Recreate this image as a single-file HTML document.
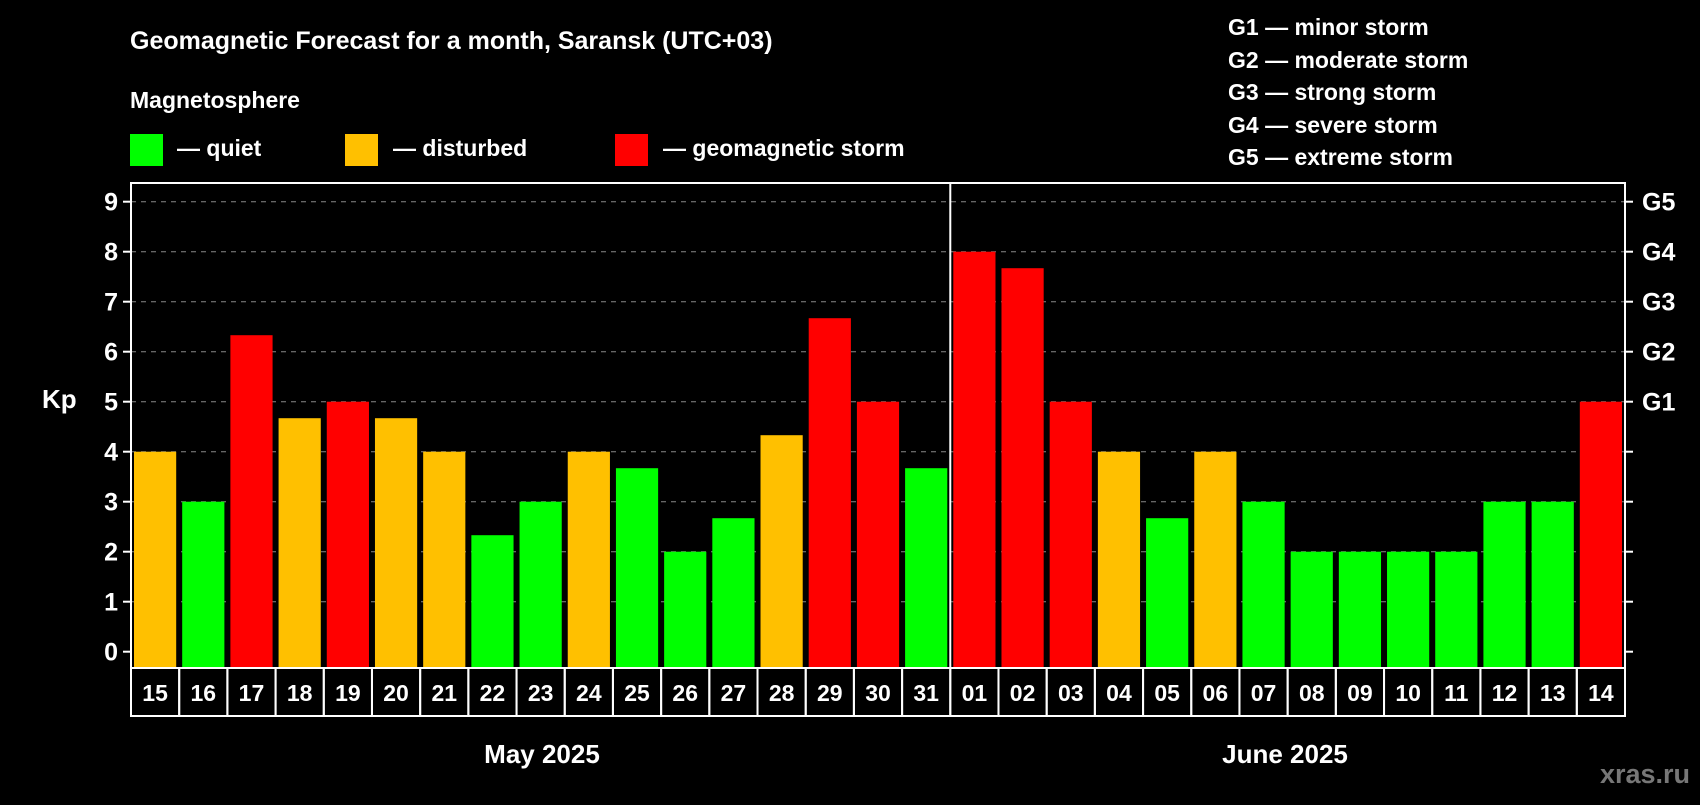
<!DOCTYPE html>
<html><head><meta charset="utf-8"><style>
body{margin:0;background:#000;width:1700px;height:800px;overflow:hidden}
svg text{font-family:"Liberation Sans",sans-serif;font-weight:bold;fill:#fff}
</style></head><body>
<svg id="c" width="1700" height="800">
<text x="130" y="49" font-size="25">Geomagnetic Forecast for a month, Saransk (UTC+03)</text>
<text x="130" y="108" font-size="23">Magnetosphere</text>
<rect x="130" y="134" width="33" height="32" fill="#00ff00"/>
<text x="177" y="156" font-size="23">— quiet</text>
<rect x="345" y="134" width="33" height="32" fill="#ffc000"/>
<text x="393" y="156" font-size="23">— disturbed</text>
<rect x="615" y="134" width="33" height="32" fill="#ff0000"/>
<text x="663" y="156" font-size="23">— geomagnetic storm</text>
<g font-size="23">
<text x="1228" y="35">G1 — minor storm</text>
<text x="1228" y="68">G2 — moderate storm</text>
<text x="1228" y="100">G3 — strong storm</text>
<text x="1228" y="133">G4 — severe storm</text>
<text x="1228" y="165">G5 — extreme storm</text>
</g>
<text x="42" y="408" font-size="26">Kp</text>
<text x="542" y="763" font-size="26" text-anchor="middle">May 2025</text>
<text x="1285" y="763" font-size="26" text-anchor="middle">June 2025</text>
<text x="1690" y="783" font-size="27" text-anchor="end" style="fill:#777">xras.ru</text>
<g id="plot"></g>
</svg>
<script>
const days=["15","16","17","18","19","20","21","22","23","24","25","26","27","28","29","30","31","01","02","03","04","05","06","07","08","09","10","11","12","13","14"];
const kp=[4,3,6.33,4.67,5,4.67,4,2.33,3,4,3.67,2,2.67,4.33,6.67,5,3.67,8,7.67,5,4,2.67,4,3,2,2,2,2,3,3,5];
const yTicks=[0,1,2,3,4,5,6,7,8,9];
const gLabels=["G1","G2","G3","G4","G5"];
const L=131,R=1625,T=183,B=668;
const slot=(R-L)/days.length;
const y=v=>651.7-v*50;
const x=i=>L+i*slot;
const g=document.getElementById('plot');
const NS="http://www.w3.org/2000/svg";
function mk(t,a){const e=document.createElementNS(NS,t);for(const k in a)e.setAttribute(k,a[k]);g.appendChild(e);return e;}
yTicks.forEach(v=>{
 if(v>0){const l=mk('line',{x1:L,x2:R,y1:y(v),y2:y(v),stroke:'#888','stroke-dasharray':'5,5','stroke-width':1});
 
 }
 const t1=mk('line',{x1:L-8,x2:L,y1:y(v),y2:y(v),stroke:'#fff','stroke-width':2});
 
 
 const t2=mk('line',{x1:R,x2:R+8,y1:y(v),y2:y(v),stroke:'#fff','stroke-width':2});
 
 
 const tx=mk('text',{x:L-13,y:y(v)+9,'font-size':25,'text-anchor':'end'});tx.textContent=v;
 
 
});
gLabels.forEach((s,i)=>{const t=mk('text',{x:R+17,y:y(5+i)+9,'font-size':25});t.textContent=s;
 
 });
kp.forEach((v,i)=>{
 const c=v<4?'#00ff00':(v<5?'#ffc000':'#ff0000');
 const r=mk('rect',{x:x(i)+3,y:y(v),width:slot-6,height:B-y(v),fill:c});
 
 
 const b=mk('rect',{x:x(i),y:B,width:slot,height:48,fill:'none',stroke:'#fff','stroke-width':2});
 
 
 const t=mk('text',{x:x(i)+slot/2,y:B+33,'font-size':23,'text-anchor':'middle'});t.textContent=days[i];
 
 
});
const f=mk('rect',{x:L,y:T,width:R-L,height:B-T,fill:'none',stroke:'#fff','stroke-width':2});


const sep=mk('line',{x1:x(17),x2:x(17),y1:T,y2:B,stroke:'#fff','stroke-width':2});


</script>
</body></html>
